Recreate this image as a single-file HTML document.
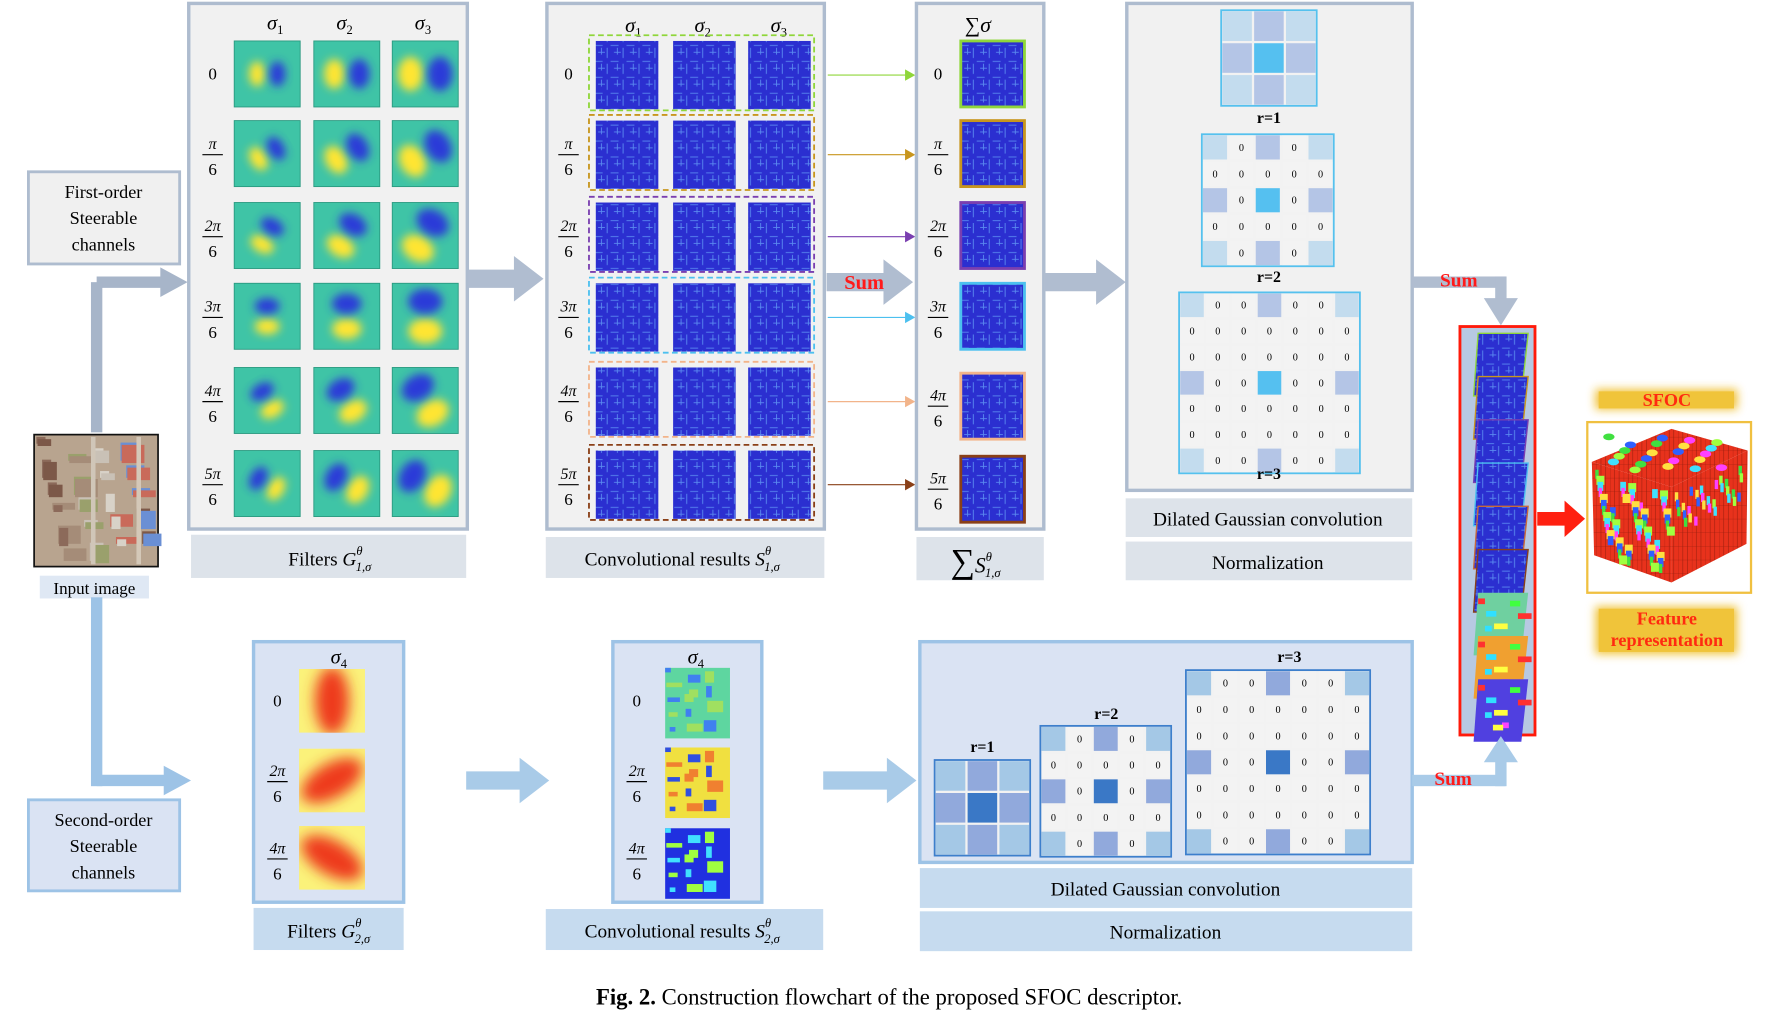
<!DOCTYPE html>
<html><head><meta charset="utf-8"><style>
html,body{margin:0;padding:0;background:#fff;width:1784px;height:1016px;overflow:hidden}
svg{display:block}
text{font-family:"Liberation Serif",serif}
</style></head><body>
<svg id="s" width="1784" height="1016" viewBox="0 0 1569 893" preserveAspectRatio="none" xmlns="http://www.w3.org/2000/svg">
<defs>
<filter id="bl" x="-50%" y="-50%" width="200%" height="200%"><feGaussianBlur stdDeviation="4"/></filter>
<filter id="bl2" x="-50%" y="-50%" width="200%" height="200%"><feGaussianBlur stdDeviation="6"/></filter>
<pattern id="tex" width="14" height="14" patternUnits="userSpaceOnUse">
<rect width="14" height="14" fill="#2b2fd0"/>
<path d="M2 0v9M8 4h6M5 12h7M11 0v6" stroke="#5a8af0" stroke-width="0.8" fill="none"/>
</pattern>
<pattern id="cubep" width="12" height="12" patternUnits="userSpaceOnUse">
<rect width="12" height="12" fill="#e8321c"/>
<path d="M0 0h12M0 0v12M4 0v12M8 0v12" stroke="#8a1a0a" stroke-width="0.4"/>
</pattern>
</defs>
<g id="g"></g>
</svg>
<script>
var o='';
function R(x,y,w,h,f,s,sw,ex){o+='<rect x="'+x+'" y="'+y+'" width="'+w+'" height="'+h+'" fill="'+f+'"'+(s?' stroke="'+s+'" stroke-width="'+(sw||1)+'"':'')+(ex||'')+'/>';}
function T(x,y,t,sz,ex){o+='<text x="'+x+'" y="'+y+'" font-size="'+sz+'" text-anchor="middle"'+(ex||'')+'>'+t+'</text>';}
function P(d,f,ex){o+='<path d="'+d+'" fill="'+f+'"'+(ex||'')+'/>';}
function F(x,y,n){ if(n==='0'){T(x,y+5,'0',15);return;} T(x,y-4,n,14,' font-style="italic"'); o+='<line x1="'+(x-9)+'" y1="'+(y+1)+'" x2="'+(x+9)+'" y2="'+(y+1)+'" stroke="#000" stroke-width="1"/>'; T(x,y+19,'6',15);}
function arrowH(x1,x2,y,w,c,hw,hl){P('M'+x1+' '+(y-w/2)+'H'+(x2-hl)+'V'+(y-hw/2)+'L'+x2+' '+y+'L'+(x2-hl)+' '+(y+hw/2)+'V'+(y+w/2)+'H'+x1+'Z',c);}
var rowsY=[65,135,207,278,352,425], labs=['0','π','2π','3π','4π','5π'];
arrowH(85,165,248,10,'#a7b5c9',26,24);
R(80,248,10,132,'#a7b5c9');
R(25,151,133,81,'#f0f0f0','#aebccf',2.5);
T(91,174,'First-order',16);T(91,197,'Steerable',16);T(91,220,'channels',16);
R(30,382,109,116,'#b8a48f','#111',1.5);
var cols=['#8c6a5a','#c9c1b6','#6a8fd4','#a58c78','#d8d2c8','#7c5848','#9aa06c','#c96a5a'];
for(var i=0;i<40;i++){var a=(i*37)%97,b=(i*53)%101;R(32+a%95,384+b%100,8+(i%4)*4,6+(i%3)*5,cols[i%8]);}
R(120,384,4,112,'#d4c8b8');R(80,384,4,112,'#d0c6b8');
R(35,506,96,20,'#dfe8f4');T(83,522,'Input image',15);
R(80,525,10,166,'#9dc3e6');arrowH(85,168,686,10,'#9dc3e6',26,24);
R(25,703,133,80,'#dae3f3','#9dc3e6',2.5);
T(91,726,'Second-order',16);T(91,749,'Steerable',16);T(91,772,'channels',16);
R(166,3,245,462,'#f1f1f1','#aebccf',3);
R(168,470,242,38,'#dde3ea');
T(290,497,'Filters  <tspan font-style="italic">G</tspan><tspan font-size="11" dy="-9" font-style="italic">θ</tspan><tspan font-size="11" dy="14" dx="-6" font-style="italic">1,σ</tspan>',17);
[242,303,372].forEach(function(x,i){T(x,26,'<tspan font-style="italic">σ</tspan><tspan font-size="11" dy="4">'+(i+1)+'</tspan>',18);});
var fx=[206,276,345];
rowsY.forEach(function(y,r){F(187,y,labs[r]);
 var th=r*Math.PI/6;
 fx.forEach(function(x,c){var d=9+c*2;
  o+='<svg x="'+x+'" y="'+(y-29)+'" width="58" height="58" overflow="hidden"><rect width="58" height="58" fill="#3fc4a6"/>';
  var yx=29-d*Math.cos(th),yy=29+d*Math.sin(th),bx=29+d*Math.cos(th),by=29-d*Math.sin(th);
  o+='<ellipse cx="'+yx+'" cy="'+yy+'" rx="'+(7+c*2)+'" ry="'+(11+c*2)+'" transform="rotate('+(-r*30)+' '+yx+' '+yy+')" fill="#ffe530" filter="url(#bl)"/>';
  o+='<ellipse cx="'+bx+'" cy="'+by+'" rx="'+(7+c*2)+'" ry="'+(11+c*2)+'" transform="rotate('+(-r*30)+' '+bx+' '+by+')" fill="#2a3ad8" filter="url(#bl)"/>';
  o+='</svg>';R(x,y-29,58,58,'none','#2a9a80',0.8);});
});
arrowH(412,478,245,16,'#b0bdd0',40,26);
R(481,3,244,462,'#f1f1f1','#aebccf',3);
R(480,472,245,36,'#dde3ea');
T(600,497,'Convolutional results  <tspan font-style="italic">S</tspan><tspan font-size="11" dy="-9" font-style="italic">θ</tspan><tspan font-size="11" dy="14" dx="-6" font-style="italic">1,σ</tspan>',17);
[557,618,685].forEach(function(x,i){T(x,28,'<tspan font-style="italic">σ</tspan><tspan font-size="11" dy="4">'+(i+1)+'</tspan>',18);});
var dc=['#8fd63a','#c8961e','#7a3fb0','#4cc0ef','#f2b48a','#8a4018'];
rowsY.forEach(function(y,r){F(500,y,labs[r]);
 R(518,y-34,198,66,'none',dc[r],1.6,' stroke-dasharray="5,3"');
 [524,592,658].forEach(function(x){R(x,y-29,55,60,'url(#tex)');});
 o+='<line x1="728" y1="'+(y+1)+'" x2="798" y2="'+(y+1)+'" stroke="'+dc[r]+'" stroke-width="1"/>';
 P('M796 '+(y-4)+'L805 '+(y+1)+'L796 '+(y+6)+'Z',dc[r]);
});
arrowH(727,803,248,16,'#b0bdd0',40,26);
T(760,254,'Sum',18,' font-weight="bold" fill="#ff1a1a"');
R(806,3,112,462,'#f1f1f1','#aebccf',3);
R(806,472,112,38,'#dde3ea');
T(860,28,'∑<tspan font-style="italic">σ</tspan>',19);
T(858,503,'<tspan font-size="30">∑</tspan><tspan font-style="italic">S</tspan><tspan font-size="11" dy="-10" font-style="italic">θ</tspan><tspan font-size="11" dy="14" dx="-6" font-style="italic">1,σ</tspan>',19);
rowsY.forEach(function(y,r){F(825,y+(r==4||r==5?4:0),labs[r]);R(845,y-29+(r>=4?5:0),56,58,'url(#tex)',dc[r],2.5);});
arrowH(918,990,248,16,'#b0bdd0',40,26);
R(991,3,251,428,'#f1f1f1','#aebccf',3);
R(990,438,252,34,'#dde3ea');R(990,476,252,34,'#dde3ea');
T(1115,462,'Dilated Gaussian convolution',17);T(1115,500,'Normalization',17);
function grid(x,y,n,size,st,cC,cX,cK){var cs=size/n,m=(n-1)/2,step=m;
 R(x,y,size,size,'#f2f2f2',st,1.6);
 for(var i=0;i<n;i++)for(var j=0;j<n;j++){var cx=x+j*cs,cy=y+i*cs;
  var on=(i%step==0&&j%step==0),f;
  if(on){var ci=(i==m),cj=(j==m);f=(ci&&cj)?cC:((ci||cj)?cX:cK);R(cx+1,cy+1,cs-2,cs-2,f);}
  else {R(cx+1,cy+1,cs-2,cs-2,'#f3f3f3');T(cx+cs/2,cy+cs/2+3,'0',Math.min(9,cs*0.5),' font-family="Liberation Sans"');}
 }}
grid(1074,9,3,84,'#55c1ee','#55c0f0','#b4c5e6','#c3dcee');T(1116,108,'r=1',14,' font-weight="bold"');
grid(1057,118,5,116,'#55c1ee','#55c0f0','#b4c5e6','#c3dcee');T(1116,248,'r=2',14,' font-weight="bold"');
grid(1037,257,7,159,'#55c1ee','#55c0f0','#b4c5e6','#c3dcee');T(1116,421,'r=3',14,' font-weight="bold"');
R(1242,243,82,10,'#b0bdd0');R(1315,243,10,20,'#b0bdd0');P('M1305 262L1335 262L1320 286Z','#b0bdd0');
T(1283,252,'Sum',17,' font-weight="bold" fill="#ff1a1a"');
R(1284,287,66,359,'#b7c9e2','#ff1a0a',2.5);
var sc=['#8fd63a','#c8961e','#7a3fb0','#4cc0ef','#c86a3a','#8a4018'];
for(var k=0;k<9;k++){var y0=293+k*38,f=k<6?'url(#tex)':(k==6?'#6fd0a0':(k==7?'#f0a030':'#5040e0'));
 P('M'+1296+' '+(y0+55)+'L1300 '+y0+'L1344 '+y0+'L1338 '+(y0+55)+'Z',f,k<6?' stroke="'+sc[k]+'" stroke-width="1.2"':'');
 if(k>=6){for(var q=0;q<8;q++)R(1300+(q*7)%36,y0+5+(q*11)%42,6+(q%3)*3,5,['#ff3030','#30e0ff','#ffff40','#ff40ff','#40ff40'][q%5]);}
}
arrowH(1352,1394,456,12,'#ff2010',32,18);
R(1403,342,125,18,'#f0c030',null,0,' filter="url(#bl)" opacity="0.95"');R(1406,344,119,15,'#f0c43a');
T(1466,357,'SFOC',16,' font-weight="bold" fill="#ff2a10"');
R(1396,371,144,150,'#fff','#f0c040',2);
P('M1400 406L1470 377L1537 396L1470 428Z','url(#cubep)');
P('M1400 406L1470 428L1470 512L1402 488Z','url(#cubep)');
P('M1470 428L1537 396L1536 478L1470 512Z','url(#cubep)');
var cc=['#40e040','#3060ff','#ffe040','#ff40ff','#40e0ff','#a0ff40'];
for(var q=0;q<60;q++){var px=1403+(q*13)%64,py=412+(q*29)%70;R(px,py+(px-1400)*0.3,3+(q%3)*2,8,cc[q%6]);}
for(var q=0;q<30;q++){var px=1473+(q*11)%60,py=434+(q*17)%30;R(px,py-(px-1470)*0.45,3,8,cc[(q+2)%6]);}
for(var q=0;q<22;q++){var px=1415+(q*19)%100,py=384+(q*7)%30;o+='<ellipse cx="'+px+'" cy="'+py+'" rx="5" ry="3" fill="'+cc[q%6]+'"/>';}
R(1403,533,125,42,'#f0c43a',null,0,' filter="url(#bl)"');R(1406,535,119,38,'#f0c43a');
T(1466,549,'Feature',16,' font-weight="bold" fill="#ff2a10"');T(1466,568,'representation',16,' font-weight="bold" fill="#ff2a10"');
R(223,564,132,229,'#dae3f3','#9dc3e6',3);R(223,798,132,37,'#c6dbef');
T(289,824,'Filters  <tspan font-style="italic">G</tspan><tspan font-size="11" dy="-9" font-style="italic">θ</tspan><tspan font-size="11" dy="14" dx="-6" font-style="italic">2,σ</tspan>',17);
T(298,583,'<tspan font-style="italic">σ</tspan><tspan font-size="11" dy="4">4</tspan>',18);
var by=[616,686,754],bl=['0','2π','4π'],ang=[0,60,-60];
by.forEach(function(y,r){F(244,y,bl[r]);
 o+='<svg x="263" y="'+(y-28)+'" width="58" height="56" overflow="hidden"><rect width="58" height="56" fill="#fbf27a"/><ellipse cx="29" cy="28" rx="15" ry="30" transform="rotate('+ang[r]+' 29 28)" fill="#ee3a1a" filter="url(#bl2)"/></svg>';
});
arrowH(410,483,686,16,'#a9cbe8',40,26);
R(539,564,131,229,'#dae3f3','#9dc3e6',3);R(480,799,244,36,'#c6dbef');
T(600,824,'Convolutional results  <tspan font-style="italic">S</tspan><tspan font-size="11" dy="-9" font-style="italic">θ</tspan><tspan font-size="11" dy="14" dx="-6" font-style="italic">2,σ</tspan>',17);
T(612,583,'<tspan font-style="italic">σ</tspan><tspan font-size="11" dy="4">4</tspan>',18);
var cb=[['#5ed6a0','#4080f0','#a0e060'],['#f0e040','#3050e0','#f08030'],['#2030e0','#40e0ff','#a0ff40']];
by.forEach(function(y,r){F(560,y,bl[r]);var x=585,yy=y-29+(r==2?3:0);R(x,yy,57,62,cb[r][0]);
 for(var q=0;q<14;q++)R(x+(q*17)%50,yy+(q*23)%56,5+(q%4)*3,4+(q%3)*3,cb[r][1+q%2]);});
arrowH(724,806,686,16,'#a9cbe8',40,26);
R(809,564,433,194,'#dae3f3','#9dc3e6',3);R(809,763,433,35,'#c6dbef');R(809,801,433,35,'#c6dbef');
T(1025,787,'Dilated Gaussian convolution',17);T(1025,825,'Normalization',17);
grid(822,668,3,84,'#3d7fcc','#3a78c6','#91a9dc','#a4c8e6');T(864,661,'r=1',14,' font-weight="bold"');
grid(915,638,5,115,'#3d7fcc','#3a78c6','#91a9dc','#a4c8e6');T(973,632,'r=2',14,' font-weight="bold"');
grid(1043,589,7,162,'#3d7fcc','#3a78c6','#91a9dc','#a4c8e6');T(1134,582,'r=3',14,' font-weight="bold"');
R(1242,681,82,10,'#a9cbe8');R(1315,668,10,23,'#a9cbe8');P('M1305 670L1335 670L1320 647Z','#a9cbe8');
T(1278,690,'Sum',17,' font-weight="bold" fill="#ff1a1a"');
T(782,883,'<tspan font-weight="bold">Fig. 2.</tspan>  Construction flowchart of the proposed SFOC descriptor.',20);
document.getElementById('g').innerHTML=o;
</script>
</body></html>
